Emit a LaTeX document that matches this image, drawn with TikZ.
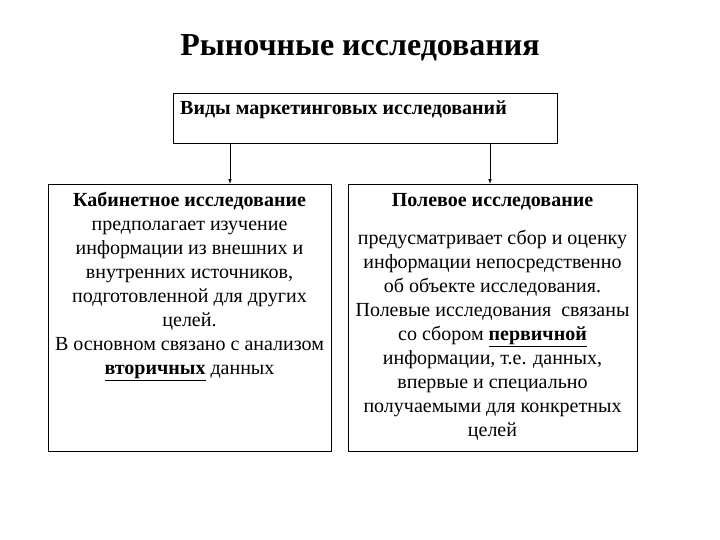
\documentclass[tikz,border=0pt]{standalone}
\usepackage{fontspec}
\setmainfont{Liberation Serif}
\usetikzlibrary{positioning}
\tikzset{
  box/.style={draw, thin, rectangle, inner sep=0pt},
  txt/.style={align=center, inner sep=0pt, font=\fontsize{20}{24}\selectfont},
}
\begin{document}
\begin{tikzpicture}[x=1pt,y=-1pt]
        \useasboundingbox (0,0) rectangle (720,540);
        \node[font=\fontsize{32}{36}\selectfont\bfseries] (titolo) at (360,48) {Рыночные исследования};
        %riquadro sopra
        \node[box, minimum width=384pt, minimum height=50pt] (vidy) at (365,118) {};
        \node[txt, anchor=west, font=\fontsize{20}{24}\selectfont\bfseries] (vidytxt) at (180,110) {Виды маркетинговых исследований};
        %riquadri sotto
        \node[box, minimum width=283pt, minimum height=267pt] (cab) at (189.5,317.5) {};
        \node[box, minimum width=289pt, minimum height=267pt] (pol) at (492.5,317.5) {};
        \node[txt, anchor=north] (cabtxt) at (189.5,192) {\textbf{Кабинетное исследование}\\
          предполагает изучение\\ информации из внешних и\\ внутренних источников,\\
          подготовленной для других\\ целей.\\ В основном связано с анализом\\
          \underline{\textbf{вторичных}} данных};
        \node[txt, anchor=north] (poltxt) at (492.5,193) {\textbf{Полевое исследование}\\[14pt]
          предусматривает сбор и оценку\\ информации непосредственно\\ об объекте исследования.\\
          Полевые исследования\ \ связаны\\ со сбором \underline{\textbf{первичной}}\\
          информации, т.е. данных,\\ впервые и специально\\ получаемыми для конкретных\\ целей};
        %frecce
        \coordinate (f1) at (230,0);
        \coordinate (f2) at (490,0);
        \draw[-latex, line width=0.6pt] (vidy.south -| f1) -- (cab.north -| f1);
        \draw[-latex, line width=0.6pt] (vidy.south -| f2) -- (pol.north -| f2);
\end{tikzpicture}
\end{document}
